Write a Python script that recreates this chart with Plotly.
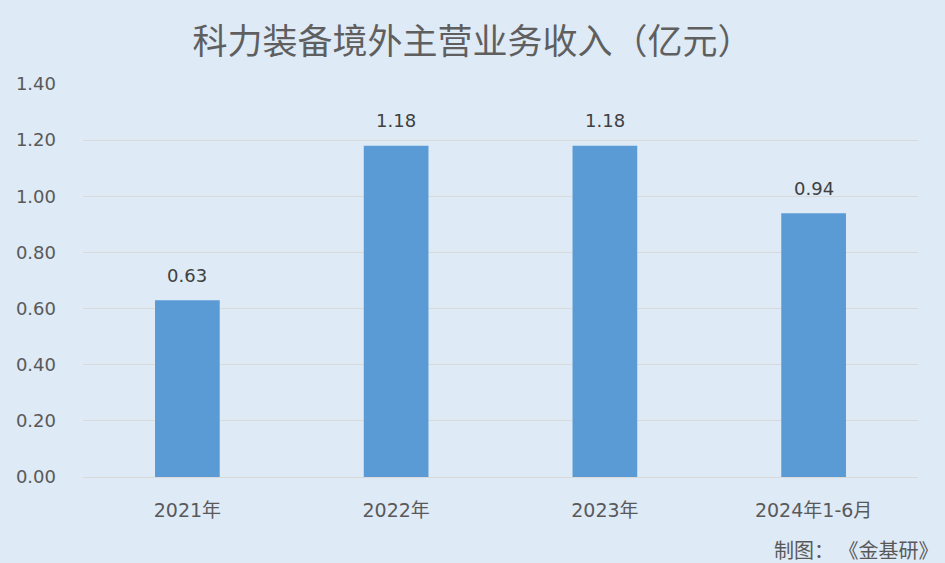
import plotly.graph_objects as go

categories = ["2021年", "2022年", "2023年", "2024年1-6月"]
values = [0.63, 1.18, 1.18, 0.94]
labels = ["0.63", "1.18", "1.18", "0.94"]
tick_vals = [0, 0.2, 0.4, 0.6, 0.8, 1.0, 1.2, 1.4]
tick_text = ["0.00", "0.20", "0.40", "0.60", "0.80", "1.00", "1.20", "1.40"]

cjk = "Noto Sans CJK SC, Noto Sans, sans-serif"
num_font = "DejaVu Sans, " + cjk
bg = "#DEEAF6"

fig = go.Figure(go.Bar(
    x=categories, y=values,
    marker=dict(color="#5B9BD5", line=dict(width=0)),
    width=0.31, hoverinfo="skip",
))

annotations = [dict(x=c, y=v, text=t, xref="x", yref="y", showarrow=False,
                    yanchor="middle", yshift=25,
                    font=dict(size=18, color="#404040", family=num_font))
               for c, v, t in zip(categories, values, labels)]
annotations.append(dict(text="制图： 《金基研》", xref="paper", yref="paper",
                        x=1 + 22 / 835, y=-(549 - 477) / 393, xanchor="right", yanchor="middle",
                        showarrow=False, font=dict(size=20, color="#595959", family=cjk)))

fig.update_layout(
    width=945, height=563,
    paper_bgcolor=bg, plot_bgcolor=bg,
    margin=dict(l=83, r=27, t=84, b=86),
    showlegend=False,
    title=dict(text="科力装备境外主营业务收入（亿元）", x=0.5, xanchor="center",
               y=1 - 42 / 563, yanchor="middle",
               font=dict(size=35, color="#5f5f5f", family=cjk)),
    font=dict(family=cjk, color="#595959"),
    annotations=annotations,
)
fig.update_yaxes(range=[0, 1.4], tickvals=tick_vals, ticktext=tick_text,
                 showgrid=True, gridcolor="#D9D9D9", gridwidth=1, zeroline=False,
                 showline=False, ticks="", ticklabelstandoff=26,
                 tickfont=dict(size=18, color="#595959", family=num_font))
fig.update_xaxes(showline=True, linecolor="#D9D9D9", linewidth=1, ticks="",
                 ticklabelstandoff=16, tickfont=dict(size=19, color="#595959", family=num_font))

fig.write_html("out.html", config={"displayModeBar": False},
               post_script="document.body.style.margin='0';")
